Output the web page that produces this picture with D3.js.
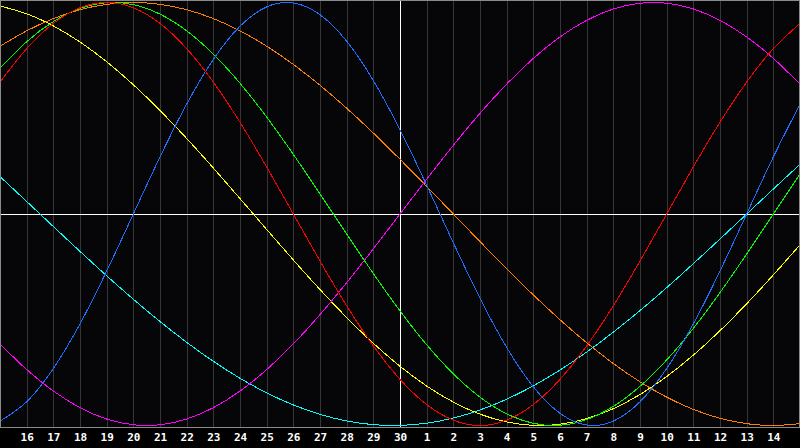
<!DOCTYPE html>
<html><head><meta charset="utf-8">
<script src="https://cdn.jsdelivr.net/npm/d3@7/dist/d3.min.js"></script>
<style>
html,body{margin:0;padding:0;background:#000;overflow:hidden}
svg{display:block}
</style></head>
<body>
<script>
// Day offsets relative to the centre day (30)
const dayOffsets = d3.range(-15, 16);
// Tick labels at offsets -14..14
const tickOffsets = d3.range(-14, 15);
const tickLabels = ["16","17","18","19","20","21","22","23","24","25","26","27","28","29","30",
                    "1","2","3","4","5","6","7","8","9","10","11","12","13","14"];

// Series values (one per day offset -15..15)
const physical = [-0.9791,-0.8879,-0.7308,-0.5196,-0.2698,0,0.2698,0.5196,0.7308,0.8879,0.9791,0.9977,0.9423,0.8170,0.6311,0.3984,0.1362,-0.1362,-0.3984,-0.6311,-0.8170,-0.9423,-0.9977,-0.9791,-0.8879,-0.7308,-0.5196,-0.2698,0,0.2698,0.5196];
const emotional = [0.6235,0.7818,0.9010,0.9749,1,0.9749,0.9010,0.7818,0.6235,0.4339,0.2225,0,-0.2225,-0.4339,-0.6235,-0.7818,-0.9010,-0.9749,-1,-0.9749,-0.9010,-0.7818,-0.6235,-0.4339,-0.2225,0,0.2225,0.4339,0.6235,0.7818,0.9010];
const intellectual = [0.6901,0.8146,0.9096,0.9718,0.9989,0.9898,0.9450,0.8660,0.7557,0.6182,0.4582,0.2817,0.0951,-0.0951,-0.2817,-0.4582,-0.6182,-0.7557,-0.8660,-0.9450,-0.9898,-0.9989,-0.9718,-0.9096,-0.8146,-0.6901,-0.5406,-0.3717,-0.1893,0,0.1893];
const intuitive = [-0.6142,-0.7357,-0.8372,-0.9158,-0.9694,-0.9966,-0.9966,-0.9694,-0.9158,-0.8372,-0.7357,-0.6142,-0.4759,-0.3247,-0.1646,0,0.1646,0.3247,0.4759,0.6142,0.7357,0.8372,0.9158,0.9694,0.9966,0.9966,0.9694,0.9158,0.8372,0.7357,0.6142];
const aesthetic = [0.9834,0.9464,0.8893,0.8133,0.7199,0.6112,0.4894,0.3572,0.2174,0.0730,-0.0730,-0.2174,-0.3572,-0.4894,-0.6112,-0.7199,-0.8133,-0.8893,-0.9464,-0.9834,-0.9993,-0.9940,-0.9675,-0.9203,-0.8536,-0.7686,-0.6673,-0.5518,-0.4244,-0.2881,-0.1456];
const awareness = [0.7934,0.8660,0.9239,0.9659,0.9914,1,0.9914,0.9659,0.9239,0.8660,0.7934,0.7071,0.6088,0.5,0.3827,0.2588,0.1305,0,-0.1305,-0.2588,-0.3827,-0.5,-0.6088,-0.7071,-0.7934,-0.8660,-0.9239,-0.9659,-0.9914,-1,-0.9914];
const spiritual = [0.1769,0.0593,-0.0593,-0.1769,-0.2921,-0.4031,-0.5085,-0.6068,-0.6966,-0.7765,-0.8456,-0.9028,-0.9473,-0.9786,-0.9960,-0.9996,-0.9890,-0.9646,-0.9267,-0.8757,-0.8125,-0.7378,-0.6529,-0.5586,-0.4566,-0.3482,-0.2349,-0.1183,0,0.1183,0.2349];

const seriesNames = ["spiritual","awareness","aesthetic","intuitive","intellectual","physical","emotional"];
const seriesValues = [spiritual, awareness, aesthetic, intuitive, intellectual, physical, emotional];
const seriesColors = ["#00ffff","#ff8000","#ffff00","#ff00ff","#00ff00","#1e6eff","#ff0000"];

const W = 800, H = 448;
const svg = d3.select("body").append("svg").attr("width", W).attr("height", H);
svg.append("rect").attr("width", W).attr("height", H).attr("fill", "#000");

const x = d3.scaleLinear().domain([-15, 15]).range([0, 800]);
const y = d3.scaleLinear().domain([-1, 1]).range([425.5, 2.5]);

// plot background
svg.append("rect").attr("x", 0).attr("y", 0).attr("width", 800).attr("height", 428).attr("fill", "#060609");

// grid lines
svg.append("g").selectAll("line").data(tickOffsets.filter(d => d !== 0)).join("line")
  .attr("x1", d => Math.round(x(d)) + 0.5).attr("x2", d => Math.round(x(d)) + 0.5)
  .attr("y1", 1).attr("y2", 427)
  .attr("stroke", "#363636").attr("stroke-width", 1).attr("shape-rendering", "crispEdges");

// centre lines
svg.append("line").attr("x1", 0).attr("x2", 800).attr("y1", y(0)).attr("y2", y(0))
  .attr("stroke", "#fff").attr("stroke-width", 1).attr("shape-rendering", "crispEdges");
svg.append("line").attr("x1", x(0) + 0.5).attr("x2", x(0) + 0.5).attr("y1", 1).attr("y2", 427)
  .attr("stroke", "#fff").attr("stroke-width", 1).attr("shape-rendering", "crispEdges");

// curves
const gen = d3.line().x((v, i) => x(dayOffsets[i])).y(v => y(v)).curve(d3.curveNatural);
svg.append("clipPath").attr("id", "clip").append("rect")
  .attr("x", 1).attr("y", 1).attr("width", 798).attr("height", 426);
svg.append("g").attr("clip-path", "url(#clip)").selectAll("path").data(seriesValues).join("path")
  .attr("d", gen)
  .attr("fill", "none")
  .attr("stroke", (d, i) => seriesColors[i])
  .attr("stroke-width", 1)
  .attr("shape-rendering", "crispEdges");

// border
svg.append("rect").attr("x", 0.5).attr("y", 0.5).attr("width", 799).attr("height", 427)
  .attr("fill", "none").attr("stroke", "#8a8a8a").attr("stroke-width", 1).attr("shape-rendering", "crispEdges");

// axis labels
const axis = d3.axisBottom(x).tickValues(tickOffsets).tickFormat((d, i) => tickLabels[i]).tickSize(0).tickPadding(0);
const ax = svg.append("g").attr("transform", "translate(0,433)").call(axis);
ax.select(".domain").remove();
ax.selectAll("text").attr("fill", "#fff").attr("font-family", "DejaVu Sans Mono").attr("font-weight", "bold")
  .attr("font-size", 11).attr("dy", "0.71em");
</script>
</body></html>
